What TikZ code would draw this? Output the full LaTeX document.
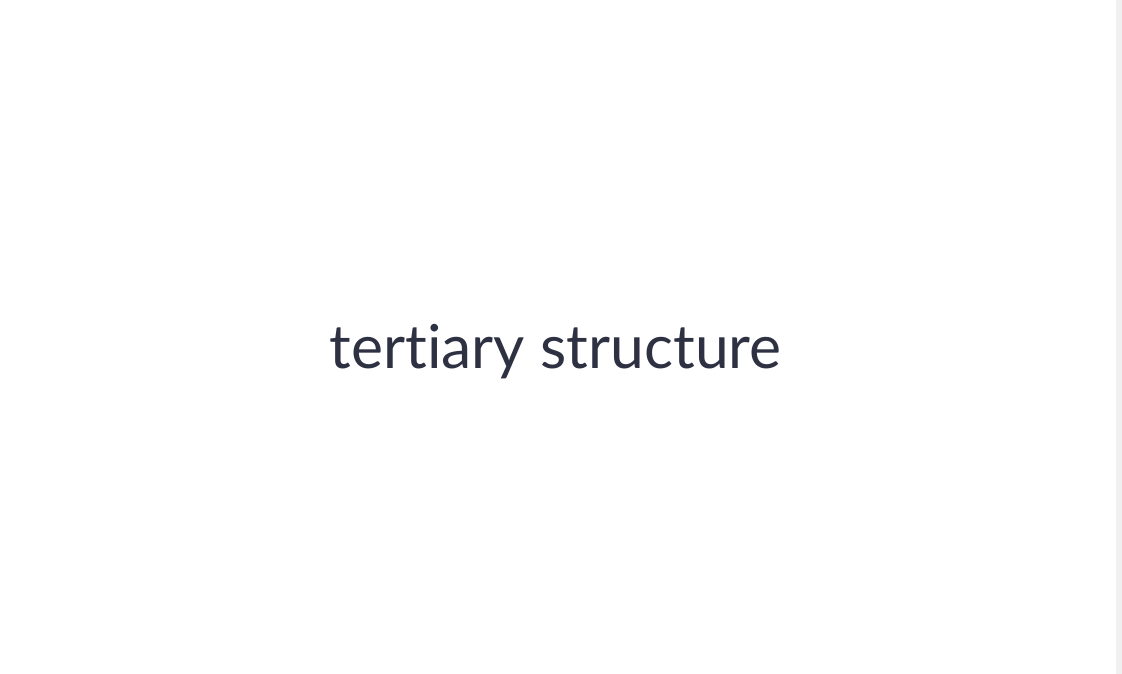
\documentclass[tikz,border=0pt]{standalone}
\usepackage{fontspec}
\setmainfont[Ligatures=NoCommon,RawFeature=-liga]{Lato}
\definecolor{txt}{HTML}{2E3142}
\definecolor{strip}{HTML}{F0F0F0}
\begin{document}
\begin{tikzpicture}[x=1pt,y=-1pt]
\useasboundingbox (0,0) rectangle (1122,674);
\fill[strip] (0,0) rectangle (1122,674);
\fill[white] (0,0) -- (1106,0) arc[start angle=90,end angle=0,radius=10] -- (1116,674) -- (0,674) -- cycle;
\node[text=txt,font=\fontsize{60.6}{64}\selectfont,inner sep=0pt,anchor=base] (title) at (555.5,368) {tertiary structure};
\end{tikzpicture}
\end{document}
